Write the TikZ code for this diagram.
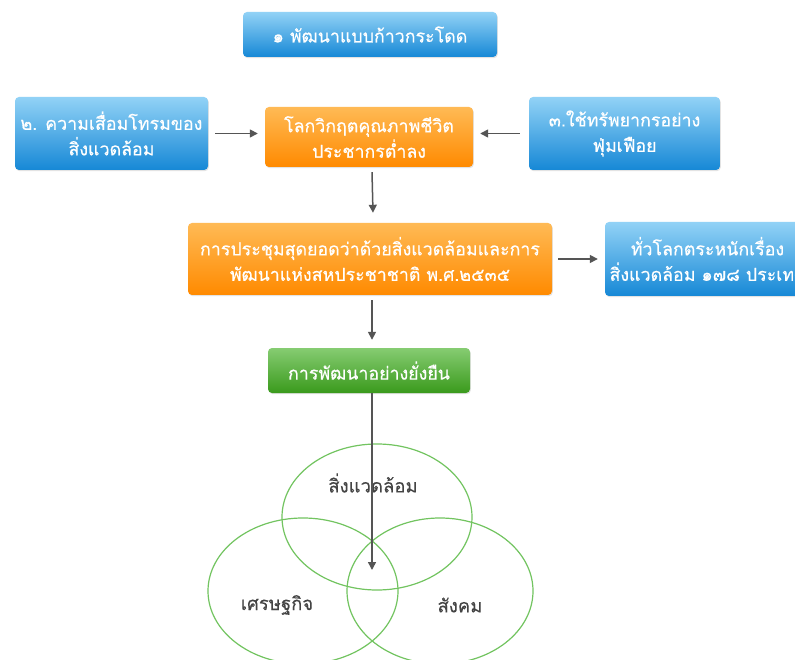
\documentclass[tikz,border=0pt]{standalone}
\usepackage{fontspec}
\newfontfamily\thai[Script=Thai,FakeBold=0.5]{Loma}
\newfontfamily\thaiv[Script=Thai,FakeBold=0.3]{Loma}
\usetikzlibrary{arrows.meta,shadows}
\definecolor{bluetop}{HTML}{92D2F6}
\definecolor{bluebot}{HTML}{1688D6}
\definecolor{orgtop}{HTML}{FFBA55}
\definecolor{orgbot}{HTML}{FF8A00}
\definecolor{grntop}{HTML}{86CC72}
\definecolor{grnbot}{HTML}{3A9A1C}
\definecolor{arrgray}{HTML}{555555}
\definecolor{venngreen}{HTML}{72C460}
\definecolor{venntext}{HTML}{444444}
\tikzset{
  boxbase/.style={rectangle, rounded corners=4pt, text=white, align=center,
    font=\thai\fontsize{17.8}{25.5}\selectfont, inner sep=2pt,
    drop shadow={opacity=0.22, shadow xshift=0.8pt, shadow yshift=-1.2pt}},
  bluebox/.style={boxbase, top color=bluetop, bottom color=bluebot},
  orgbox/.style={boxbase, top color=orgtop, bottom color=orgbot},
  grnbox/.style={boxbase, top color=grntop, bottom color=grnbot},
  boxtext/.style={text=white, align=center, font=\thai\fontsize{17.8}{25.5}\selectfont, inner sep=0pt},
  arr/.style={draw=arrgray, line width=1.5pt, -{Triangle[length=8pt,width=8pt]}},
  venn/.style={draw=venngreen, line width=1.2pt},
  vlabel/.style={text=venntext, font=\thaiv\fontsize{18.5}{20}\selectfont}
}
\begin{document}
\begin{tikzpicture}[x=1pt,y=-1pt]
\useasboundingbox (0,0) rectangle (795,660);
\clip (0,0) rectangle (795,660);
\fill[white] (0,0) rectangle (795,660);
% venn
\draw[venn] (377,517) ellipse [x radius=95, y radius=73];
\draw[venn] (303,591) ellipse [x radius=95, y radius=73];
\draw[venn] (440,591) ellipse [x radius=93, y radius=73];
\node[vlabel] (lenv) at (373,483) {สิ่งแวดล้อม};
\node[vlabel] (leco) at (277,605) {เศรษฐกิจ};
\node[vlabel] (lsoc) at (460,605) {สังคม};
% boxes
\node[bluebox, minimum width=254pt, minimum height=45pt] (b1) at (370,34.5) {๑ พัฒนาแบบก้าวกระโดด};
\node[bluebox, minimum width=193pt, minimum height=73pt] (b2) at (111.5,133.5) {๒. ความเสื่อมโทรมของ\\สิ่งแวดล้อม};
\node[orgbox, minimum width=208pt, minimum height=60pt] (c1) at (369,137) {โลกวิกฤตคุณภาพชีวิต\\ประชากรต่ำลง};
\node[bluebox, minimum width=191pt, minimum height=73pt] (b3) at (624.5,133.5) {๓.ใช้ทรัพยากรอย่าง\\ฟุ่มเฟือย};
\node[orgbox, minimum width=364pt, minimum height=72pt] (c2) at (370,259) {การประชุมสุดยอดว่าด้วยสิ่งแวดล้อมและการ\\พัฒนาแห่งสหประชาชาติ พ.ศ.๒๕๓๕};
\node[bluebox, minimum width=205pt, minimum height=74pt] (b4) at (707.5,259) {};
\node[boxtext] (b4t) at (b4.center) {ทั่วโลกตระหนักเรื่อง\\สิ่งแวดล้อม ๑๗๘ ประเทศ};
\node[grnbox, minimum width=202pt, minimum height=45pt] (g1) at (369,370.5) {การพัฒนาอย่างยั่งยืน};
\coordinate (vc) at (372,570);
% arrows
\draw[arr] ([xshift=7pt]b2.east) -- ([xshift=-7pt]c1.west |- b2.east);
\draw[arr] ([xshift=-9pt]b3.west) -- ([xshift=7pt]c1.east |- b3.west);
\draw[arr] ([yshift=-5pt,xshift=3pt]c1.south) -- ([yshift=10pt,xshift=3pt]c2.north);
\draw[arr] ([xshift=6pt]c2.east) -- ([xshift=-7pt]b4.west);
\draw[arr] ([yshift=-5pt,xshift=2pt]c2.south) -- ([yshift=8pt,xshift=3pt]g1.north);
\draw[arr] ([xshift=3pt]g1.south) -- (vc);
\end{tikzpicture}
\end{document}
